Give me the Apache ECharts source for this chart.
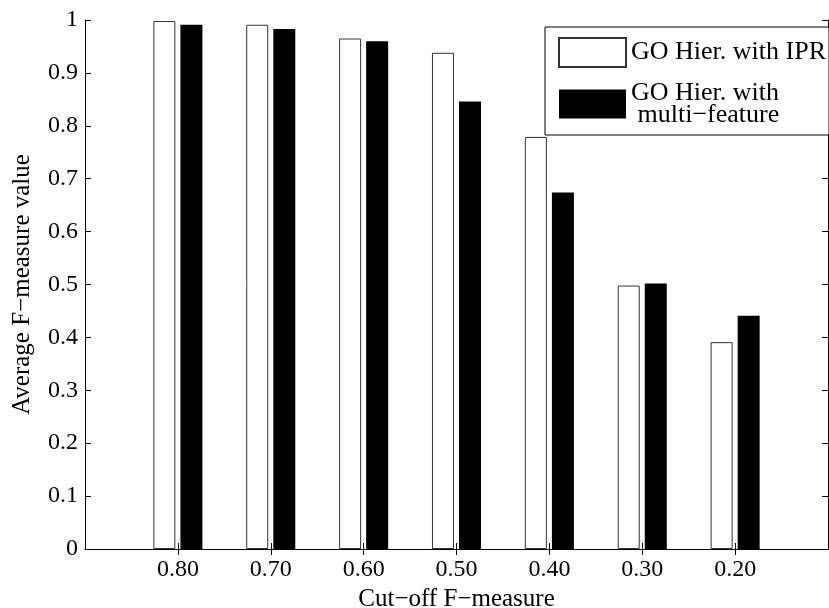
<!DOCTYPE html>
<html>
<head>
<meta charset="utf-8">
<script src="https://cdn.jsdelivr.net/npm/echarts@6/dist/echarts.min.js"></script>
<style>
  html, body { margin: 0; padding: 0; background: #fff; }
  #chart { width: 829px; height: 608px; }
</style>
</head>
<body>
<div id="chart"></div>
<script>
// cut-off values on the x axis
const cutoffs = ['0.80', '0.70', '0.60', '0.50', '0.40', '0.30', '0.20'];
// average F-measure per cut-off
const ipr = [0.998, 0.991, 0.965, 0.938, 0.779, 0.498, 0.391];
const multiFeature = [0.991, 0.983, 0.960, 0.846, 0.674, 0.502, 0.441];

const font = 'Liberation Serif';
const fs = 24;

// empty slot on each side, like the matlab axis limits
const cats = [''].concat(cutoffs, ['']);
const pad = arr => ['-'].concat(arr, ['-']);
const innerTick = i => i > 0 && i < cats.length - 1;

const chart = echarts.init(document.getElementById('chart'));
const option = {
    animation: false,
    backgroundColor: '#fff',
    grid: { left: 85, right: 1, top: 20, bottom: 59, outerBoundsMode: 'none' },
    legend: {
        orient: 'vertical',
        left: 545,
        top: 27,
        padding: [10, 3, 7, 13],
        itemGap: 12,
        itemWidth: 67,
        itemHeight: 29,
        icon: 'rect',
        borderColor: '#000',
        borderWidth: 1,
        backgroundColor: '#fff',
        textStyle: { fontFamily: font, fontSize: 26, color: '#000', lineHeight: 22 },
        data: ['GO Hier. with IPR', 'GO Hier. with\n multi−feature']
    },
    xAxis: [{
        type: 'category',
        data: cats,
        boundaryGap: false,
        name: 'Cut−off F−measure',
        nameLocation: 'middle',
        nameGap: 34,
        nameTextStyle: { fontFamily: font, fontSize: 25, color: '#000' },
        axisLine: { lineStyle: { color: '#000', width: 1 } },
        axisTick: { inside: true, length: 6, interval: innerTick, lineStyle: { color: '#000' } },
        axisLabel: { fontFamily: font, fontSize: fs, color: '#000', margin: 9, interval: 0 },
        splitLine: { show: false }
    }, {
        type: 'category',
        data: cats,
        boundaryGap: false,
        position: 'top',
        axisLine: { lineStyle: { color: '#000', width: 1 } },
        axisTick: { inside: true, length: 6, interval: innerTick, lineStyle: { color: '#000' } },
        axisLabel: { show: false },
        splitLine: { show: false }
    }],
    yAxis: [{
        type: 'value',
        min: 0,
        max: 1,
        interval: 0.1,
        name: 'Average F−measure value',
        nameLocation: 'middle',
        nameGap: 50,
        nameTextStyle: { fontFamily: font, fontSize: 25, color: '#000' },
        axisLine: { show: true, lineStyle: { color: '#000', width: 1 } },
        axisTick: { show: true, inside: true, length: 6, lineStyle: { color: '#000' } },
        axisLabel: { fontFamily: font, fontSize: fs, color: '#000', margin: 7 },
        splitLine: { show: false }
    }, {
        type: 'value',
        min: 0,
        max: 1,
        interval: 0.1,
        position: 'right',
        axisLine: { show: true, lineStyle: { color: '#000', width: 1 } },
        axisTick: { show: true, inside: true, length: 6, lineStyle: { color: '#000' } },
        axisLabel: { show: false },
        splitLine: { show: false }
    }],
    series: [{
        name: 'GO Hier. with IPR',
        type: 'bar',
        data: pad(ipr),
        barWidth: 22,
        barGap: '23%',
        itemStyle: { color: '#fff', borderColor: '#333', borderWidth: 1 }
    }, {
        name: 'GO Hier. with\n multi−feature',
        type: 'bar',
        data: pad(multiFeature),
        barWidth: 22,
        barGap: '23%',
        itemStyle: { color: '#000' }
    }]
};
chart.setOption(option);
</script>
</body>
</html>
